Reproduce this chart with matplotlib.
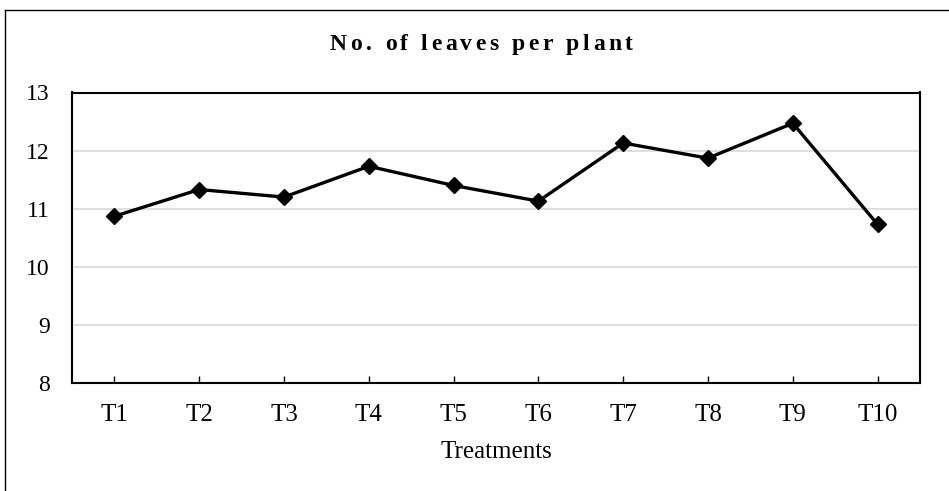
import numpy as np
import matplotlib
matplotlib.use('Agg')
import matplotlib.pyplot as plt
from matplotlib.lines import Line2D

treatments = ['T1', 'T2', 'T3', 'T4', 'T5', 'T6', 'T7', 'T8', 'T9', 'T10']
leaves = [10.87, 11.33, 11.20, 11.73, 11.40, 11.13, 12.13, 11.87, 12.47, 10.73]
title = 'No. of leaves per plant'

plt.rcParams['font.family'] = ['Liberation Serif', 'DejaVu Serif']

fig = plt.figure(figsize=(9.49, 4.91), dpi=100)
ax = fig.add_axes([72/949, 1 - 383/491, (920-72)/949, (383-92.5)/491])

x = np.arange(len(treatments))
ax.plot(x, leaves, color='black', lw=2.4, marker='D', markersize=8.5, zorder=3)

ax.set_xlim(-0.5, len(treatments) - 0.5)
ax.set_ylim(8, 13)
ax.set_yticks([8, 9, 10, 11, 12, 13])
ax.set_xticks(x)
ax.set_xticklabels(treatments)
ax.tick_params(axis='y', length=0, pad=16, labelsize=17)
ax.tick_params(axis='x', direction='in', length=5, width=1, pad=15, labelsize=18)
ax.grid(axis='y', color='#d9d9d9', lw=1.2)
ax.set_axisbelow(True)
for s in ax.spines.values():
    s.set_linewidth(1.5)

ax.set_xlabel('Treatments', fontsize=18, labelpad=11)

# title with wide letter spacing: place each character by hand
r = fig.canvas.get_renderer()
tkw = dict(fontsize=17, fontweight='bold', va='baseline', ha='left')
def width(s):
    t = fig.text(0, 0, s, **tkw)
    w = t.get_window_extent(r).width
    t.remove()
    return w
bar_w = width('||')
adv = [width('|' + ch + '|') - bar_w for ch in title]
left, right = 330, 633
track = (right - left - sum(adv)) / (len(title) - 1)
px = left
for ch, a in zip(title, adv):
    if ch != ' ':
        fig.text(px / 949, 1 - 50/491, ch, **tkw)
    px += a + track

# outer chart border (clipped at right/bottom in reference)
fig.add_artist(Line2D([4.5/949, 4.5/949], [0, 1 - 9.5/491], transform=fig.transFigure,
                      color='black', lw=1))
fig.add_artist(Line2D([4.5/949, 1], [1 - 9.5/491, 1 - 9.5/491], transform=fig.transFigure,
                      color='black', lw=1))

fig.savefig('out.png', dpi=100)
